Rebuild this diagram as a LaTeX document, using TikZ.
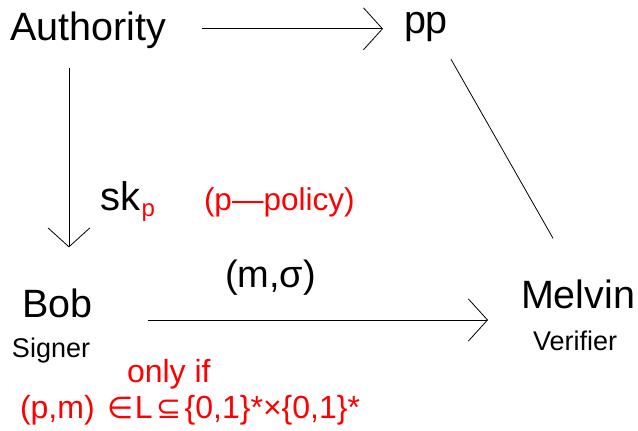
\documentclass[tikz,border=0pt]{standalone}
\usepackage{fontspec}
\setmainfont{Liberation Sans}
\newfontfamily\symfont{DejaVu Sans}
\usetikzlibrary{arrows.meta}

\newcommand{\fsz}[1]{\fontsize{#1}{#1}\selectfont}

\tikzset{
  txt/.style={inner sep=0pt, outer sep=0pt, anchor=base west},
  party/.style={txt, font=\fsz{39.5}},
  role/.style={txt, font=\fsz{27}},
  note/.style={txt, text=red, font=\fsz{32}},
  flow/.style={line width=0.8pt,
    -{Straight Barb[length=19pt, width=42pt, line width=0.8pt]}},
  link/.style={line width=0.8pt},
}

\begin{document}
\begin{tikzpicture}[x=1pt, y=-1pt]
  \useasboundingbox (0,0) rectangle (638,431);

  % parties
  \node[party] (auth) at (10,40) {Authority};
  \node[party] (pp) at (404,34) {pp};
  \node[party] (bob) at (22,317) {Bob};
  \node[role] (signer) at (12,357) {Signer};
  \node[party] (melvin) at (521,308) {Melvin};
  \node[role] (verifier) at (533,350) {Verifier};

  % labels
  \node[txt, font=\fsz{40}] (sk) at (100,210) {sk};
  \node[txt, text=red, font=\fsz{24}] (skp) at ([xshift=1.5pt, yshift=-6pt]sk.base east) {p};
  \node[note, font=\fsz{31.5}] (policy) at (204,210) {(p—policy)};
  \node[txt, font=\fsz{38}] (msg) at (225,287) {(m,σ)};
  \node[note] (onlyif) at (127,382) {only if};
  \node[note] (lang) at (20,418)
    {(p,m)\hspace{13pt}{\symfont\fsz{30}∈}\hspace{1pt}L\hspace{4pt}{\symfont\fsz{30}⊆}\hspace{3pt}\{0,1\}*×\{0,1\}*};

  % connectors
  \draw[flow, shorten <=36pt, shorten >=21pt]
    ([yshift=1pt]auth.east) -- ([yshift=1pt]auth.east -| pp.west);
  \draw[flow, shorten <=20pt, shorten >=41pt]
    ([xshift=-19pt]auth.south) -- ([xshift=-19pt]auth.south |- bob.north);
  \draw[flow, shorten <=56pt, shorten >=33pt]
    ([yshift=-3pt]bob.base east) -- ([yshift=-3pt]bob.base east -| melvin.west);
  \draw[link]
    ([xshift=25pt, yshift=-17pt]pp.south) -- ([xshift=-25pt, yshift=41pt]melvin.north);
\end{tikzpicture}
\end{document}
